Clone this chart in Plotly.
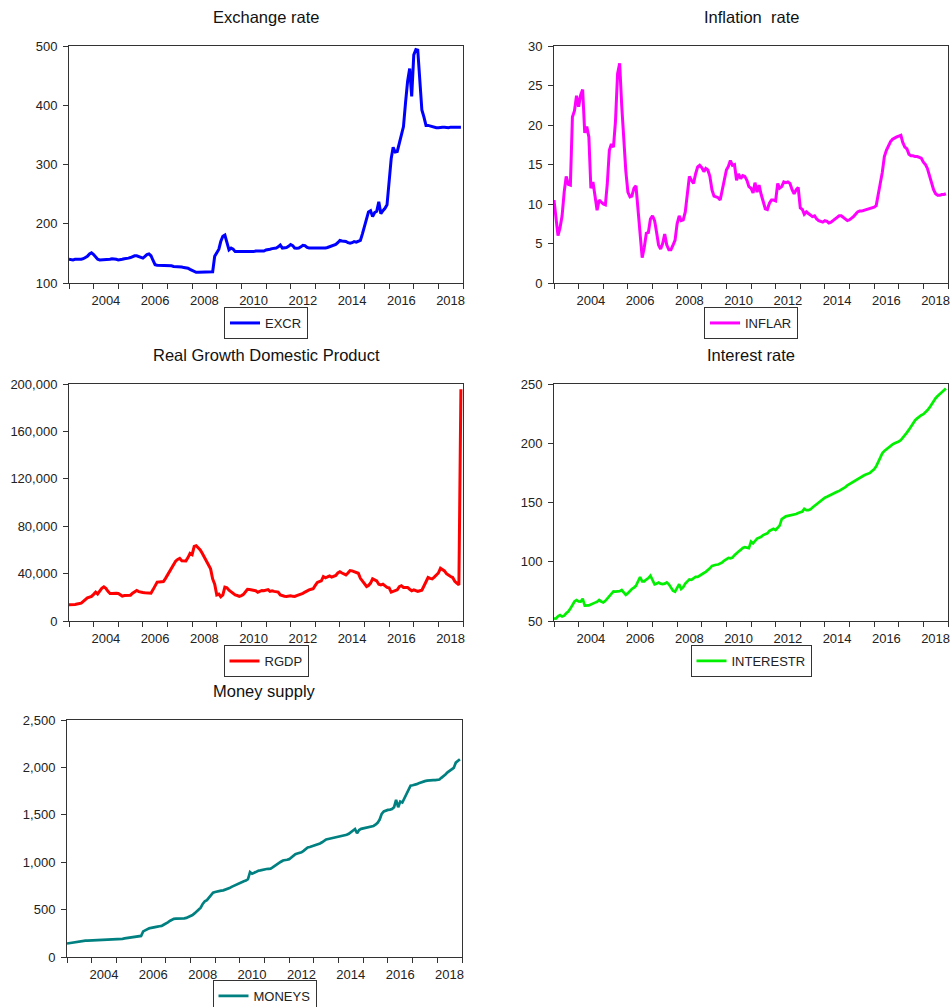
import plotly.graph_objects as go
import pandas as pd

# ---------------- data (monthly, 2003M01 - 2018M12) ----------------
months = pd.date_range("2003-01-01", periods=192, freq="MS")

excr = [
    140, 139, 139, 140, 140, 139, 140, 141, 143, 145, 149, 151,   # 2003
    148, 144, 140, 139, 139, 140, 140, 140, 140, 141, 141, 140,   # 2004
    139, 139, 140, 141, 141, 142, 143, 145, 146, 146, 145, 143,   # 2005
    142, 145, 148, 149, 146, 138, 131, 130, 130, 130, 129, 129,   # 2006
    129, 129, 129, 128, 128, 128, 127, 127, 126, 126, 125, 123,   # 2007
    121, 119, 118, 118, 118, 118, 118, 118, 118, 118, 119, 145,   # 2008
    152, 157, 170, 179, 181, 170, 156, 159, 157, 153, 153, 153,   # 2009
    153, 152, 152, 153, 153, 153, 153, 154, 154, 154, 154, 154,   # 2010
    155.7, 156, 157, 158, 158.5, 159, 161, 164, 159, 159, 160, 162,   # 2011
    165, 163, 159, 158.5, 159, 161, 163.6, 163, 160, 159, 159, 158.5,  # 2012
    158.5, 158.5, 158.5, 159, 159, 159, 160, 161, 162, 163, 165, 168,  # 2013
    172, 171, 171, 170, 168, 167, 168, 170, 169, 170, 172, 183,   # 2014
    195, 208, 220, 222, 212, 219, 221, 237, 217, 222, 226, 232,   # 2015
    270, 310, 329, 321, 322, 335, 350, 364, 405, 440, 462, 415,   # 2016
    485, 494, 493, 437, 392, 380, 366, 366, 365, 364, 362, 362,   # 2017
    362, 363, 363, 363, 362, 362, 363, 363, 363, 363, 363, 363,   # 2018
]

inflar = [
    10.5, 8.5, 6.0, 7.0, 8.5, 11.5, 13.5, 12.5, 12.4, 21.0, 21.8, 23.7,   # 2003
    22.3, 23.8, 24.5, 19.0, 19.8, 18.5, 12.0, 12.8, 10.9, 9.2, 10.5, 10.2,  # 2004
    10.0, 9.9, 12.5, 16.8, 17.6, 17.2, 20.5, 26.5, 27.8, 22.5, 17.5, 14.2,  # 2005
    11.5, 10.9, 11.0, 12.0, 12.3, 9.5, 6.0, 3.2, 4.5, 6.3, 6.4, 8.1,        # 2006
    8.5, 7.9, 6.5, 4.8, 4.3, 5.0, 6.2, 4.8, 4.2, 4.2, 4.8, 5.4,             # 2007
    7.5, 8.5, 7.9, 8.0, 9.0, 11.5, 13.5, 13.0, 12.6, 13.8, 14.7, 14.9,      # 2008
    14.6, 14.1, 14.5, 14.3, 13.5, 11.8, 11.0, 10.9, 10.8, 10.5, 11.7, 13.3, # 2009
    14.3, 14.8, 15.5, 14.9, 15.0, 13.0, 13.8, 13.2, 13.6, 13.5, 13.0, 12.2, # 2010
    12.0, 11.4, 12.7, 11.5, 12.4, 11.2, 10.2, 9.4, 9.3, 10.1, 10.5, 10.5,   # 2011
    10.4, 12.6, 12.0, 12.2, 12.8, 12.7, 12.8, 12.6, 11.8, 11.3, 11.8, 12.1, # 2012
    9.5, 9.3, 8.7, 9.0, 8.8, 8.6, 8.4, 8.5, 8.1, 7.9, 7.8, 7.7,             # 2013
    7.9, 7.8, 7.6, 7.7, 7.9, 8.1, 8.3, 8.5, 8.5, 8.3, 8.1, 7.9,             # 2014
    8.0, 8.2, 8.4, 8.7, 9.0, 9.1, 9.1, 9.2, 9.3, 9.3, 9.4, 9.5,             # 2015
    9.6, 9.8, 11.4, 12.6, 14.0, 16.0, 16.8, 17.4, 17.9, 18.2, 18.4, 18.5,   # 2016
    18.6, 18.7, 17.8, 17.2, 17.0, 16.3, 16.1, 16.1, 16.0, 16.0, 15.9, 15.8, # 2017
    15.3, 15.0, 14.5, 13.6, 12.5, 11.8, 11.3, 11.1, 11.1, 11.2, 11.2, 11.3, # 2018
]

rgdp_thousands = [
    13.8, 13.7, 13.8, 14.0, 14.3, 14.6, 15.0, 16.5, 18.5, 19.5, 20.2, 20.8,  # 2003
    22.5, 24.4, 22.8, 25.5, 27.5, 28.8, 27.5, 25.0, 23.2, 23.3, 23.5, 23.5,  # 2004
    23.2, 22.0, 21.0, 21.5, 21.6, 21.7, 21.8, 23.5, 24.8, 25.8, 24.8, 24.2,  # 2005
    24.0, 23.8, 23.6, 23.5, 23.5, 26.5, 29.5, 32.8, 33.0, 33.2, 33.3, 35.8,  # 2006
    39.0, 42.5, 45.5, 48.7, 50.5, 52.0, 52.9, 50.8, 50.7, 50.7, 53.5, 57.0,  # 2007
    56.0, 63.0, 63.5, 61.9, 60.0, 57.0, 53.5, 50.0, 47.5, 44.0, 35.5, 31.1,  # 2008
    22.0, 22.7, 20.5, 22.0, 28.5, 28.0, 26.0, 24.5, 22.7, 22.0, 21.5, 20.8,  # 2009
    21.5, 22.5, 24.5, 26.7, 26.5, 26.3, 26.2, 25.5, 24.3, 24.8, 25.8, 25.5,  # 2010
    26.0, 26.5, 25.0, 25.5, 25.0, 24.4, 24.4, 22.0, 21.3, 20.9, 20.7, 21.0,  # 2011
    21.3, 20.8, 20.7, 21.5, 22.1, 22.1, 23.3, 24.4, 25.5, 26.3, 26.8, 27.2,  # 2012
    30.0, 32.5, 33.2, 33.9, 37.5, 36.5, 37.2, 38.0, 37.0, 37.5, 38.4, 40.5,  # 2013
    41.5, 40.5, 39.5, 38.9, 40.5, 42.6, 42.3, 41.7, 41.2, 40.3, 36.0, 33.5,  # 2014
    31.5, 29.1, 30.0, 32.0, 35.6, 34.8, 33.9, 31.0, 30.5, 31.1, 29.5, 28.3,  # 2015
    28.0, 24.4, 25.0, 25.5, 26.3, 29.0, 29.8, 28.3, 28.3, 28.3, 26.8, 25.5,  # 2016
    26.3, 25.5, 24.9, 25.5, 26.0, 29.5, 33.5, 36.7, 36.0, 35.6, 37.0, 38.4,  # 2017
    40.5, 44.5, 43.5, 42.3, 40.0, 38.4, 37.5, 36.7, 33.5, 31.9, 30.5, 195.5, # 2018
]
rgdp = [v * 1000 for v in rgdp_thousands]

interestr = [
    52.0, 52.2, 54.0, 55.0, 53.8, 54.5, 56.5, 58.0, 60.5, 64.0, 66.5, 67.7,         # 2003
    66.5, 66.3, 68.8, 63.0, 62.8, 63.2, 64.0, 65.0, 65.5, 66.2, 67.7, 66.5,         # 2004
    65.7, 67.0, 69.0, 71.5, 73.5, 75.0, 74.8, 74.7, 75.2, 76.1, 74.0, 72.0,         # 2005
    73.5, 75.5, 77.0, 78.2, 79.7, 83.5, 87.0, 83.5, 83.5, 85.0, 86.2, 88.2,         # 2006
    84.0, 81.0, 81.5, 82.5, 81.5, 81.1, 81.5, 82.5, 81.0, 78.0, 75.5, 74.7,         # 2007
    77.5, 81.1, 77.0, 78.5, 81.5, 83.5, 85.1, 84.8, 86.5, 87.3, 87.3, 88.5,         # 2008
    90.0, 90.5, 91.5, 92.9, 94.5, 96.5, 97.3, 97.5, 97.7, 98.5, 99.5, 101.0,        # 2009
    102.0, 103.3, 102.9, 103.5, 105.5, 107.5, 108.7, 110.0, 111.7, 112.3, 112.0, 111.5,  # 2010
    117.0, 115.5, 117.5, 119.5, 120.3, 121.0, 122.5, 123.5, 124.0, 126.0, 127.0, 127.8,  # 2011
    126.8, 128.5, 130.5, 136.0, 137.5, 138.3, 138.7, 139.0, 139.3, 139.7, 140.3, 141.2,  # 2012
    141.8, 142.3, 144.7, 143.6, 143.5, 144.2, 145.8, 147.3, 148.6, 150.0, 151.5, 153.2,  # 2013
    154.0, 154.8, 155.7, 156.5, 157.3, 158.2, 159.0, 159.8, 160.7, 161.8, 163.0, 164.5,  # 2014
    165.6, 166.7, 167.8, 169.0, 170.2, 171.1, 172.0, 172.8, 173.6, 174.3, 175.0, 176.5,  # 2015
    178.0, 180.5, 184.0, 187.5, 191.5, 193.5, 195.0, 196.5, 197.8, 199.0, 200.0, 200.5,  # 2016
    201.5, 202.7, 204.5, 206.5, 209.0, 211.5, 214.5, 217.0, 219.5, 221.0, 222.5, 223.7,  # 2017
    224.5, 226.0, 227.8, 230.0, 232.8, 235.5, 238.0, 239.8, 241.5, 243.0, 244.6, 246.2,  # 2018
]

moneys = [
    142, 146, 150, 154, 158, 160, 162, 165, 168, 172, 173, 174,             # 2003
    175, 175, 176, 176, 176, 176, 176, 177, 177, 178, 179, 180,             # 2004
    182, 185, 188, 192, 196, 200, 204, 208, 212, 215, 218, 220,             # 2005
    222, 270, 283, 293, 302, 308, 314, 317, 320, 324, 328, 340,             # 2006
    350, 366, 380, 392, 403, 404, 404, 405, 405, 408, 412, 420,             # 2007
    430, 443, 460, 480, 500, 520, 560, 588, 600, 630, 660, 678,             # 2008
    685, 692, 697, 700, 703, 710, 718, 727, 740, 750, 762, 772,             # 2009
    785, 796, 800, 806, 820, 896, 878, 888, 900, 910, 914, 920,             # 2010
    927, 928, 930, 932, 945, 962, 980, 992, 1005, 1018, 1020, 1026,         # 2011
    1032, 1050, 1068, 1085, 1092, 1098, 1105, 1120, 1140, 1155, 1160, 1166, # 2012
    1172, 1180, 1188, 1198, 1210, 1225, 1240, 1245, 1250, 1255, 1260, 1264, # 2013
    1267, 1270, 1274, 1280, 1289, 1300, 1318, 1335, 1350, 1305, 1340, 1352, # 2014
    1356, 1360, 1366, 1370, 1375, 1382, 1395, 1415, 1450, 1510, 1536, 1545, # 2015
    1552, 1555, 1560, 1580, 1658, 1580, 1640, 1630, 1675, 1715, 1770, 1808, # 2016
    1812, 1815, 1823, 1832, 1842, 1851, 1855, 1860, 1864, 1865, 1865, 1865, # 2017
    1866, 1872, 1890, 1905, 1925, 1948, 1965, 1980, 1995, 2050, 2065, 2086, # 2018
]

year_ticks = [f"{y}-01-01" for y in range(2003, 2020)]
label_years = list(range(2004, 2019, 2))
label_vals = [f"{y}-07-01" for y in label_years]
label_text = [str(y) for y in label_years]

# ---------------- layout ----------------
W, H = 950, 1007
FONT = "Liberation Sans, Arial, sans-serif"
AX = "#333333"

panels = [
    dict(name="EXCR", title="Exchange rate", y=excr, color="#0000FF", lw=3,
         box=(69, 463, 46, 283), yr=[100, 500], dt=100, fmt="", ty=17, lt=307),
    dict(name="INFLAR", title="Inflation\u00a0 rate", y=inflar, color="#FF00FF", lw=3,
         box=(554, 948, 46, 283), yr=[0, 30], dt=5, fmt="", ty=17, lt=307),
    dict(name="RGDP", title="Real Growth Domestic Product", y=rgdp, color="#FF0000", lw=3,
         box=(69, 463, 384, 621), yr=[0, 200000], dt=40000, fmt=",", ty=355, lt=645),
    dict(name="INTERESTR", title="Interest rate", y=interestr, color="#00F000", lw=2.7,
         box=(554, 948, 384, 621), yr=[50, 250], dt=50, fmt="", ty=355, lt=645),
    dict(name="MONEYS", title="Money supply", y=moneys, color="#008080", lw=2.7,
         box=(67, 462, 720, 957), yr=[0, 2500], dt=500, fmt=",", ty=691, lt=980),
]

fig = go.Figure()
layout = dict(
    width=W, height=H, margin=dict(l=0, r=0, t=0, b=0, pad=0, autoexpand=False),
    paper_bgcolor="white", plot_bgcolor="white",
    font=dict(family=FONT, size=13, color="#222222"),
    showlegend=True, annotations=[],
)

for i, p in enumerate(panels, start=1):
    sx = "" if i == 1 else str(i)
    x0, x1, y0, y1 = p["box"]
    fig.add_trace(go.Scatter(
        x=months, y=p["y"], mode="lines", name=p["name"],
        line=dict(color=p["color"], width=p["lw"]),
        xaxis="x" + sx, yaxis="y" + sx, legend="legend" + sx,
    ))
    layout["xaxis" + sx] = dict(
        domain=[x0 / W, x1 / W], anchor="y" + sx, type="date",
        range=["2003-01-01", "2019-01-01"],
        tickmode="array", tickvals=label_vals, ticktext=label_text, ticks="",
        ticklabelstandoff=5, ticklabeloverflow="allow",
        minor=dict(tickmode="array", tickvals=year_ticks, ticks="outside",
                   ticklen=5, tickcolor=AX, tickwidth=1, showgrid=False),
        showgrid=False, zeroline=False, showline=True, linecolor=AX, linewidth=1,
        mirror=True, tickfont=dict(size=13, color="#222222"), fixedrange=True,
    )
    layout["yaxis" + sx] = dict(
        domain=[1 - y1 / H, 1 - y0 / H], anchor="x" + sx,
        range=p["yr"], dtick=p["dt"], tick0=p["yr"][0], tickformat=p["fmt"],
        ticks="outside", ticklen=5, tickcolor=AX, tickwidth=1, ticklabelstandoff=3,
        showgrid=False, zeroline=False, showline=True, linecolor=AX, linewidth=1,
        mirror=True, tickfont=dict(size=13, color="#222222"), fixedrange=True,
    )
    layout["legend" + sx] = dict(
        x=(x0 + x1) / 2 / W, y=1 - p["lt"] / H, xanchor="center", yanchor="top",
        xref="paper", yref="paper",
        bordercolor=AX, borderwidth=1, bgcolor="white",
        font=dict(size=13, color="#222222"), itemwidth=30,
    )
    layout["annotations"].append(dict(
        text=p["title"], x=(x0 + x1) / 2 / W, y=1 - p["ty"] / H,
        xref="paper", yref="paper", xanchor="center", yanchor="middle",
        showarrow=False, font=dict(size=16.5, color="#111111", family=FONT),
    ))

fig.update_layout(**layout)
fig.write_html("out.html", config={"displayModeBar": False})

# remove the browser's default page margin so the figure sits at the window's corner
with open("out.html", "r", encoding="utf-8") as fh:
    html = fh.read()
html = html.replace("<head>", "<head><style>html,body{margin:0;padding:0;overflow:hidden;}</style>", 1)
with open("out.html", "w", encoding="utf-8") as fh:
    fh.write(html)
